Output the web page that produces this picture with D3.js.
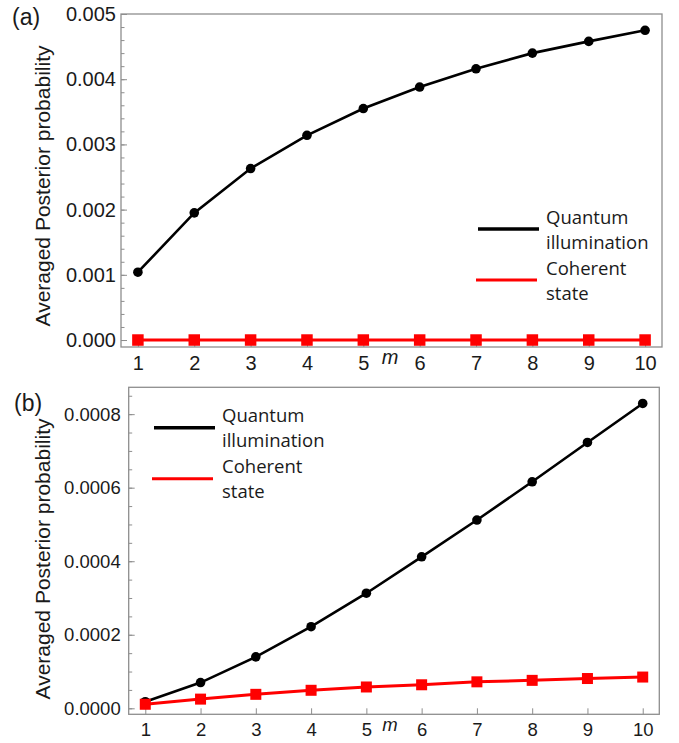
<!DOCTYPE html>
<html>
<head>
<meta charset="utf-8">
<script src="https://cdn.jsdelivr.net/npm/d3@7"></script>
<style>
  html, body { margin: 0; padding: 0; background: #fff; }
  svg text { fill: #1a1a1a; }
</style>
</head>
<body>
<svg id="chart" width="679" height="743"></svg>
<script>
'use strict';

// ── Data ──────────────────────────────────────────────────
const mValues = [1, 2, 3, 4, 5, 6, 7, 8, 9, 10];

// panel (a)
const quantumA  = [0.00104, 0.00195, 0.00263, 0.00314, 0.00355, 0.00388, 0.00416, 0.00440, 0.00458, 0.00475];
const coherentA = [0, 0, 0, 0, 0, 0, 0, 0, 0, 0];
const yTicksA   = [0.000, 0.001, 0.002, 0.003, 0.004, 0.005];

// panel (b)
const quantumB  = [0.000018, 0.000070, 0.000140, 0.000222, 0.000313, 0.000412, 0.000512, 0.000616, 0.000723, 0.000829];
const coherentB = [0.000011, 0.000025, 0.000038, 0.000049, 0.000058, 0.000064, 0.000072, 0.000076, 0.000081, 0.000085];
const yTicksB   = [0.0000, 0.0002, 0.0004, 0.0006, 0.0008];

const legendLabels = [['Quantum', 'illumination'], ['Coherent', 'state']];

const svg = d3.select('#chart');
const FRAME = '#8e8e8e';

// ── Panel ─────────────────────────────────────────────────
function panel(p) {
  const x = d3.scaleLinear().domain([0.7, 10.3]).range([p.left, p.right]);
  const y = d3.scaleLinear().domain(p.yDomain).range([p.bottom, p.top]);
  const g = svg.append('g');

  // frame
  g.append('rect')
    .attr('x', p.left).attr('y', p.top)
    .attr('width', p.right - p.left).attr('height', p.bottom - p.top)
    .attr('fill', 'none').attr('stroke', FRAME).attr('stroke-width', 1.3);

  // y axis: minor then major ticks (pointing inward)
  const yMinor = g.append('g').attr('transform', `translate(${p.left},0)`)
    .call(d3.axisLeft(y).tickValues(p.yMinor).tickSize(-3.5).tickFormat(''));
  const yMajor = g.append('g').attr('transform', `translate(${p.left},0)`)
    .call(d3.axisLeft(y).tickValues(p.yTicks).tickSize(-6).tickPadding(p.yPad).tickFormat(d3.format(p.yFmt)));

  // x axis
  const xMajor = g.append('g').attr('transform', `translate(0,${p.bottom})`)
    .call(d3.axisBottom(x).tickValues(mValues).tickSize(-6).tickPadding(p.xPad).tickFormat(d3.format('d')));

  [yMinor, yMajor, xMajor].forEach(a => {
    a.select('.domain').remove();
    a.selectAll('line').attr('stroke', FRAME).attr('stroke-width', 1);
    a.selectAll('text')
      .attr('font-family', 'Liberation Sans, Arial, sans-serif')
      .attr('font-size', p.fontSize)
      .attr('fill', '#1a1a1a');
  });

  // axis titles
  g.append('text')
    .attr('transform', `translate(${p.yLabelX},${p.yLabelY}) rotate(-90)`)
    .attr('text-anchor', 'middle')
    .attr('dominant-baseline', 'central')
    .attr('font-family', 'Liberation Sans, Arial, sans-serif')
    .attr('font-size', 21)
    .text('Averaged Posterior probability');

  g.append('text')
    .attr('x', p.mX).attr('y', p.mY)
    .attr('text-anchor', 'middle')
    .attr('font-family', 'Liberation Sans, Arial, sans-serif')
    .attr('font-style', 'italic')
    .attr('font-size', p.fontSize)
    .text('m');

  g.append('text')
    .attr('x', p.tagX).attr('y', p.tagY)
    .attr('dominant-baseline', 'central')
    .attr('font-family', 'Liberation Sans, Arial, sans-serif')
    .attr('font-size', 23)
    .text(p.tag);

  // series
  const line = d3.line().x((d, i) => x(mValues[i])).y(d => y(d));

  g.append('path').datum(p.quantum)
    .attr('d', line).attr('fill', 'none')
    .attr('stroke', '#000').attr('stroke-width', 2.6);
  g.selectAll('circle.q').data(p.quantum).join('circle')
    .attr('cx', (d, i) => x(mValues[i])).attr('cy', d => y(d))
    .attr('r', 4.8).attr('fill', '#000');

  g.append('path').datum(p.coherent)
    .attr('d', line).attr('fill', 'none')
    .attr('stroke', '#ff0000').attr('stroke-width', 3);
  const s = p.sq;
  g.selectAll('rect.c').data(p.coherent).join('rect')
    .attr('x', (d, i) => x(mValues[i]) - s / 2).attr('y', d => y(d) - s / 2)
    .attr('width', s).attr('height', s).attr('fill', '#ff0000');

  // legend
  const colors = ['#000', '#ff0000'];
  legendLabels.forEach((lab, i) => {
    const ly = p.legY + i * 51;
    g.append('line')
      .attr('x1', p.legX - (i ? 2 : 0)).attr('x2', p.legX + 61 - (i ? 2 : 0))
      .attr('y1', ly).attr('y2', ly)
      .attr('stroke', colors[i]).attr('stroke-width', i ? 3 : 3.5);
    lab.forEach((t, j) => {
      g.append('text')
        .attr('x', p.legX + 68).attr('y', ly - 13 + j * 25)
        .attr('dominant-baseline', 'central')
        .attr('font-family', 'Open Sans, Noto Sans, sans-serif')
        .attr('font-size', 18.5)
        .text(t);
    });
  });
}

panel({
  tag: '(a)', tagX: 12, tagY: 17,
  left: 121, right: 662, top: 14, bottom: 347,
  yDomain: [-0.000107, 0.005],
  yTicks: yTicksA,
  yMinor: d3.range(0, 0.00501, 0.0002),
  yFmt: '.3f', yPad: 5, xPad: 9, fontSize: 20,
  yLabelX: 42, yLabelY: 186,
  mX: 390, mY: 364,
  quantum: quantumA, coherent: coherentA, sq: 11.5,
  legX: 478, legY: 229
});

panel({
  tag: '(b)', tagX: 14, tagY: 403,
  left: 128.7, right: 659.3, top: 387.3, bottom: 714.3,
  yDomain: [-0.0000163, 0.000873],
  yTicks: yTicksB,
  yMinor: d3.range(0, 0.00086, 0.00005),
  yFmt: '.4f', yPad: 8, xPad: 9, fontSize: 18.5,
  yLabelX: 42, yLabelY: 559,
  mX: 390, mY: 731,
  quantum: quantumB, coherent: coherentB, sq: 11,
  legX: 154, legY: 427.7
});
</script>
</body>
</html>
